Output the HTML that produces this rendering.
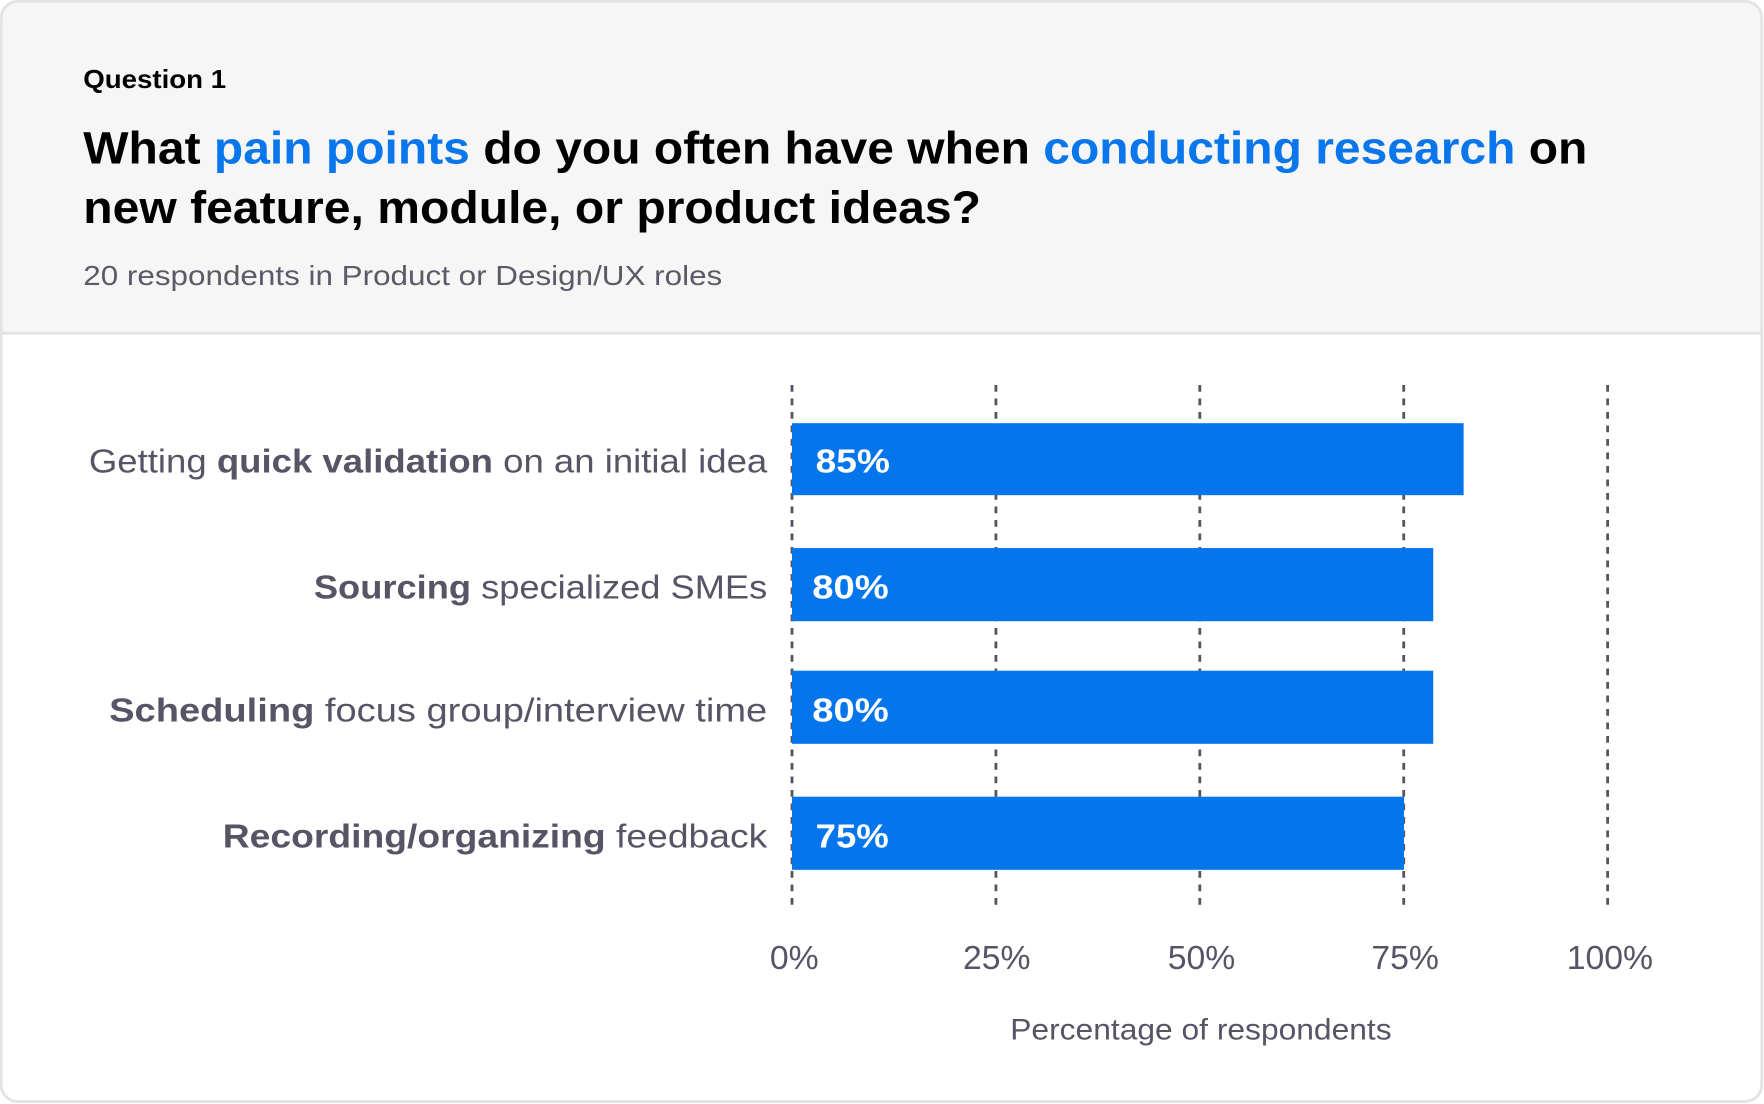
<!DOCTYPE html>
<html><head><meta charset="utf-8"><style>
html,body{margin:0;padding:0;background:#fff;width:1764px;height:1104px;overflow:hidden}
svg{display:block}
text{font-family:"Liberation Sans",sans-serif}
</style></head><body>
<svg width="1764" height="1104" viewBox="0 0 1568 981" xmlns="http://www.w3.org/2000/svg">
<defs><clipPath id="c"><rect x="1" y="1" width="1565" height="978" rx="15"/></clipPath></defs>
<rect x="1" y="1" width="1565" height="978" rx="15" fill="#fff"/>
<rect x="0" y="0" width="1568" height="296" fill="#f6f6f6" clip-path="url(#c)"/>
<line x1="1" y1="296" x2="1566" y2="296" stroke="#e3e3e6" stroke-width="2.5"/>
<rect x="1" y="1" width="1565" height="978" rx="15" fill="none" stroke="#e3e3e6" stroke-width="2.5"/>
<text x="74" y="78" font-size="23" font-weight="bold" fill="#000" textLength="127" lengthAdjust="spacingAndGlyphs">Question 1</text>
<text x="74" y="145" font-size="40" font-weight="bold" fill="#000" textLength="1337" lengthAdjust="spacingAndGlyphs">What <tspan fill="#0a76ec">pain points</tspan> do you often have when <tspan fill="#0a76ec">conducting research</tspan> on</text>
<text x="74" y="198" font-size="40" font-weight="bold" fill="#000" textLength="798" lengthAdjust="spacingAndGlyphs">new feature, module, or product ideas?</text>
<text x="74" y="253" font-size="25" fill="#5a5a68" textLength="568" lengthAdjust="spacingAndGlyphs">20 respondents in Product or Design/UX roles</text>
<g stroke="#55555f" stroke-width="2.5" stroke-dasharray="6,6">
<line x1="704" y1="342" x2="704" y2="806"/>
<line x1="885.25" y1="342" x2="885.25" y2="806"/>
<line x1="1066.5" y1="342" x2="1066.5" y2="806"/>
<line x1="1247.75" y1="342" x2="1247.75" y2="806"/>
<line x1="1429" y1="342" x2="1429" y2="806"/>
</g>
<g fill="#0575ec">
<rect x="704" y="376" width="597" height="64"/>
<rect x="704" y="487" width="570" height="65"/>
<rect x="704" y="596" width="570" height="65"/>
<rect x="704" y="708" width="544" height="65"/>
</g>
<g fill="#fff" font-size="30" font-weight="bold">
<text x="725" y="420" textLength="66" lengthAdjust="spacingAndGlyphs">85%</text>
<text x="722" y="532" textLength="68" lengthAdjust="spacingAndGlyphs">80%</text>
<text x="722" y="641" textLength="68" lengthAdjust="spacingAndGlyphs">80%</text>
<text x="725" y="753" textLength="65" lengthAdjust="spacingAndGlyphs">75%</text>
</g>
<g fill="#555566" font-size="30">
<text x="79" y="420" textLength="603" lengthAdjust="spacingAndGlyphs">Getting <tspan font-weight="bold">quick validation</tspan> on an initial idea</text>
<text x="279" y="532" textLength="403" lengthAdjust="spacingAndGlyphs"><tspan font-weight="bold">Sourcing</tspan> specialized SMEs</text>
<text x="97" y="641" textLength="585" lengthAdjust="spacingAndGlyphs"><tspan font-weight="bold">Scheduling</tspan> focus group/interview time</text>
<text x="198" y="753" textLength="484" lengthAdjust="spacingAndGlyphs"><tspan font-weight="bold">Recording/organizing</tspan> feedback</text>
</g>
<g fill="#555566" font-size="30" text-anchor="middle">
<text x="706" y="861">0%</text>
<text x="886" y="861">25%</text>
<text x="1068" y="861">50%</text>
<text x="1249" y="861">75%</text>
<text x="1431" y="861">100%</text>
</g>
<text x="898" y="924" font-size="26" fill="#555566" textLength="339" lengthAdjust="spacingAndGlyphs">Percentage of respondents</text>
</svg>
</body></html>
